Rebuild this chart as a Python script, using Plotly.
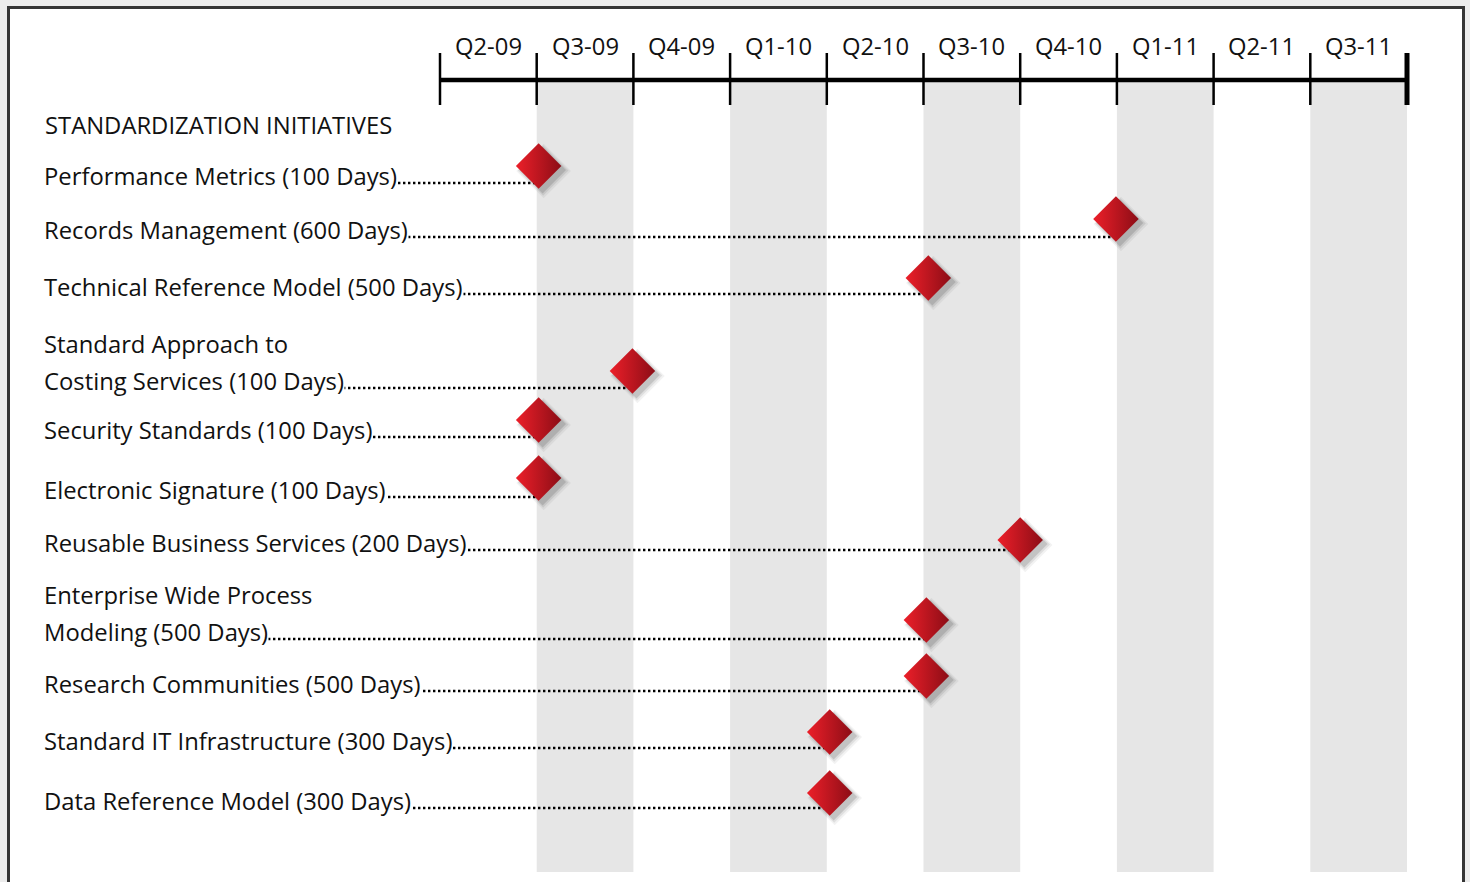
import plotly.graph_objects as go

# ---- data -------------------------------------------------------------
quarters = ["Q2-09", "Q3-09", "Q4-09", "Q1-10", "Q2-10",
            "Q3-10", "Q4-10", "Q1-11", "Q2-11", "Q3-11"]
shaded_quarters = ["Q3-09", "Q1-10", "Q3-10", "Q1-11", "Q3-11"]

heading = "STANDARDIZATION INITIATIVES"
initiative_lines = [
    ["Performance Metrics (100 Days)"],
    ["Records Management (600 Days)"],
    ["Technical Reference Model (500 Days)"],
    ["Standard Approach to", "Costing Services (100 Days)"],
    ["Security Standards (100 Days)"],
    ["Electronic Signature (100 Days)"],
    ["Reusable Business Services (200 Days)"],
    ["Enterprise Wide Process", "Modeling (500 Days)"],
    ["Research Communities (500 Days)"],
    ["Standard IT Infrastructure (300 Days)"],
    ["Data Reference Model (300 Days)"],
]
# completion point, in quarters elapsed since the start of Q2-09
completion = [1.02, 6.99, 5.05, 1.99, 1.02, 1.02, 6.0, 5.03, 5.03, 4.03, 4.03]

# ---- layout geometry (pixel units on the vertical axis) --------------
W, H = 1470, 882
AX_LEFT, QW = 440, 96.7          # timeline origin and width of one quarter
LABEL_X = 43
row_text_y = [176, 230, 287, 381, 430, 490, 543, 632, 684, 741, 801]
marker_y = [166, 219, 278, 371, 420, 478, 540, 620, 676, 732, 793]
LINE_GAP = 37
HEADING_Y = 125
AXIS_Y, TICK_TOP, TICK_BOT, COL_BOT = 80, 53, 105, 872

FONT = "Open Sans"
FS = 23.8
INK = "#111111"

x_lo = -AX_LEFT / QW
x_hi = (W - AX_LEFT) / QW
label_x = x_lo + LABEL_X / QW
leader_x0 = x_lo + (LABEL_X + 40) / QW   # starts behind the label text

fig = go.Figure()
shapes = []
annotations = []

# page frame
shapes.append(dict(type="rect", xref="paper", yref="paper",
                   x0=8.5 / W, x1=1463.5 / W, y0=-0.05, y1=1 - 7.5 / H,
                   fillcolor="white", line=dict(color="#353535", width=3),
                   layer="below"))

# shaded quarter columns
for i, q in enumerate(quarters):
    if q in shaded_quarters:
        shapes.append(dict(type="rect", xref="x", yref="y",
                           x0=i, x1=i + 1, y0=AXIS_Y, y1=COL_BOT,
                           fillcolor="#e6e6e6", line=dict(width=0),
                           layer="below"))

# timeline axis and quarter ticks
shapes.append(dict(type="line", xref="x", yref="y", x0=0, x1=len(quarters),
                   y0=AXIS_Y, y1=AXIS_Y, line=dict(color="black", width=4.5),
                   layer="below"))
for i in range(len(quarters) + 1):
    shapes.append(dict(type="line", xref="x", yref="y", x0=i, x1=i,
                       y0=TICK_TOP, y1=TICK_BOT,
                       line=dict(color="black",
                                 width=5 if i == len(quarters) else 2.5),
                       layer="below"))
for i, q in enumerate(quarters):
    annotations.append(dict(x=i + 0.5, y=46, xref="x", yref="y", text=q,
                            showarrow=False, xanchor="center", yanchor="middle",
                            font=dict(family=FONT, size=FS, color=INK)))

# heading
annotations.append(dict(x=label_x, y=HEADING_Y, xref="x", yref="y",
                        text=heading, showarrow=False, xanchor="left",
                        yanchor="middle",
                        font=dict(family=FONT, size=FS, color=INK)))

# dotted leaders (the white label boxes mask the part behind the text)
for lines, cx, ty in zip(initiative_lines, completion, row_text_y):
    fig.add_trace(go.Scatter(
        x=[leader_x0, cx], y=[ty + 7, ty + 7], mode="lines",
        line=dict(color="black", width=2.6, dash="2.4px,2.6px"),
        hoverinfo="skip", showlegend=False))
    for k, line in enumerate(lines):
        annotations.append(dict(
            x=label_x, y=ty - (len(lines) - 1 - k) * LINE_GAP,
            xref="x", yref="y", text=line, showarrow=False,
            xanchor="left", yanchor="middle", bgcolor="white", borderpad=0,
            font=dict(family=FONT, size=FS, color=INK)))

# soft drop shadow under each diamond
for dx, dy, size, alpha in [(5, 5, 42, 0.05), (4.5, 4.5, 39, 0.08),
                            (4, 4, 36, 0.12)]:
    fig.add_trace(go.Scatter(
        x=[c + dx / QW for c in completion], y=[m + dy for m in marker_y],
        mode="markers",
        marker=dict(symbol="diamond", size=size,
                    color=f"rgba(0,0,0,{alpha})", line=dict(width=0)),
        hoverinfo="skip", showlegend=False))

# milestone diamonds: dark crimson on the left fading to bright red
fig.add_trace(go.Scatter(
    x=completion, y=marker_y, mode="markers",
    marker=dict(symbol="diamond", size=35, color="#ec1f29",
                gradient=dict(type="horizontal", color="#8c0d16"),
                line=dict(width=0)),
    text=[" ".join(l) for l in initiative_lines],
    hoverinfo="text", showlegend=False))

fig.update_layout(
    width=W, height=H,
    margin=dict(l=0, r=0, t=0, b=0),
    paper_bgcolor="#ececec", plot_bgcolor="rgba(0,0,0,0)",
    xaxis=dict(range=[x_lo, x_hi], visible=False, fixedrange=True),
    yaxis=dict(range=[H, 0], visible=False, fixedrange=True),
    shapes=shapes, annotations=annotations,
    font=dict(family=FONT, color=INK),
)

fig.write_html("out.html")
